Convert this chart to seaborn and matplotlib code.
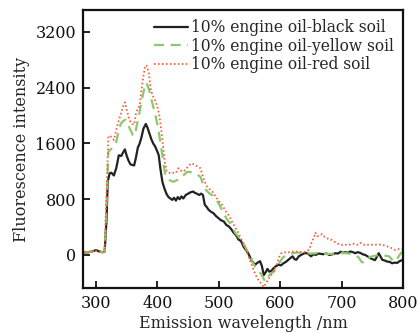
import matplotlib
matplotlib.use("Agg")
import matplotlib.pyplot as plt
import seaborn as sns
import pandas as pd

# Emission spectra of soils contaminated with 10% engine oil
black_wl = [280, 285, 290, 295, 300, 305, 310, 314, 317, 319, 322, 325, 329, 333, 337, 341, 344, 347, 350, 353,
            356, 359, 362, 365, 368, 371, 374, 377, 381, 384, 387, 390, 393, 396, 399, 402, 405, 408, 411, 415,
            418, 421, 424, 427, 430, 433, 436, 439, 442, 446, 450, 454, 458, 461, 464, 468, 471, 474, 477, 480,
            483, 487, 491, 495, 499, 503, 508, 512, 516, 520, 524, 528, 532, 536, 540, 544, 548, 551, 555, 559,
            563, 567, 570, 573, 576, 579, 582, 585, 589, 593, 597, 601, 605, 609, 613, 617, 620, 623, 626, 630,
            634, 638, 642, 646, 650, 654, 658, 662, 666, 670, 675, 680, 685, 690, 694, 698, 702, 706, 710, 714,
            718, 722, 726, 730, 734, 738, 742, 746, 750, 754, 757, 760, 763, 766, 770, 774, 778, 782, 786, 790,
            794, 798, 800]
black_soil = [40, 35, 45, 55, 70, 50, 40, 45, 500, 1050, 1170, 1180, 1140, 1250, 1430, 1420, 1470, 1515, 1420, 1350,
              1300, 1290, 1285, 1400, 1540, 1600, 1690, 1810, 1880, 1820, 1740, 1660, 1600, 1560, 1500, 1430, 1220, 1050, 960, 870,
              830, 810, 790, 820, 780, 830, 800, 840, 810, 860, 880, 900, 910, 890, 880, 860, 880, 860, 720, 690,
              650, 620, 600, 560, 530, 500, 480, 430, 410, 370, 320, 280, 220, 200, 120, 70, 20, -40, -100, -140,
              -110, -90, -160, -290, -250, -200, -240, -230, -190, -160, -140, -150, -120, -100, -70, -40, -20, -60, -70, -20,
              0, 20, 30, 10, -20, 10, 0, 20, 15, 10, 20, 0, 10, 25, 20, 45, 30, 40, 30, 50,
              40, 25, 40, 30, 10, 0, -20, -45, -60, -75, -30, 25, -20, -70, -80, -95, -100, -120, -110, -115,
              -90, -75, -70]

yellow_wl = [280, 285, 290, 295, 300, 305, 310, 314, 317, 320, 324, 328, 332, 336, 340, 344, 348, 352, 356, 360,
             363, 366, 370, 374, 378, 382, 386, 389, 393, 397, 401, 405, 409, 412, 415, 420, 426, 431, 437, 443,
             448, 454, 459, 465, 470, 475, 480, 485, 490, 494, 498, 502, 506, 510, 514, 518, 522, 527, 531, 535,
             540, 545, 551, 555, 559, 564, 570, 575, 578, 582, 586, 590, 594, 598, 603, 608, 614, 620, 627, 635,
             643, 650, 660, 670, 682, 690, 700, 708, 715, 722, 728, 732, 736, 740, 747, 755, 763, 770, 777, 782,
             786, 790, 794, 797, 800]
yellow_soil = [40, 35, 45, 55, 65, 50, 40, 45, 700, 1480, 1515, 1550, 1590, 1750, 1880, 1920, 1940, 1870, 1790, 1720,
               1710, 1850, 2010, 2200, 2370, 2470, 2380, 2270, 2130, 1990, 1820, 1600, 1360, 1180, 1100, 1070, 1050, 1070, 1090, 1150,
               1190, 1190, 1170, 1150, 1120, 990, 920, 880, 850, 810, 760, 700, 620, 560, 500, 460, 400, 310, 270, 220,
               160, 80, -20, -100, -170, -220, -290, -380, -330, -290, -260, -230, -190, -120, -50, -10, 15, 25, 35, 30,
               25, 20, 25, 15, 15, 20, 25, 25, 15, 0, -40, -100, -110, -60, -25, -10, 0, -10, -20, -70,
               -100, -60, 0, 30, 50]

red_wl = [280, 285, 290, 295, 300, 305, 310, 314, 317, 320, 323, 326, 329, 332, 335, 338, 341, 344, 347, 350,
          353, 356, 359, 362, 365, 368, 371, 374, 377, 380, 383, 386, 389, 392, 396, 400, 403, 406, 409, 412,
          415, 419, 423, 427, 430, 434, 438, 442, 446, 450, 453, 456, 459, 462, 466, 470, 473, 476, 480, 484,
          489, 493, 497, 501, 505, 509, 513, 517, 521, 525, 529, 533, 537, 541, 546, 550, 554, 558, 562, 566,
          570, 573, 577, 581, 585, 589, 592, 595, 598, 601, 605, 610, 615, 622, 630, 638, 643, 647, 651, 654,
          657, 660, 664, 668, 672, 676, 680, 684, 688, 692, 696, 700, 705, 710, 715, 720, 725, 730, 735, 739,
          745, 750, 758, 766, 772, 776, 782, 787, 791, 795, 800]
red_soil = [30, 40, 40, 55, 65, 45, 35, 50, 900, 1700, 1710, 1680, 1650, 1760, 1870, 1960, 2040, 2130, 2190, 2080,
            1980, 1910, 1880, 1870, 2030, 2100, 2140, 2380, 2560, 2720, 2710, 2600, 2380, 2290, 2220, 2120, 2000, 1800, 1560, 1330,
            1200, 1180, 1170, 1180, 1175, 1245, 1210, 1195, 1230, 1270, 1300, 1315, 1300, 1290, 1260, 1245, 1150, 1070, 990, 950,
            910, 860, 810, 760, 720, 660, 600, 560, 480, 420, 360, 290, 215, 140, 30, -60, -160, -250, -330, -380,
            -420, -460, -400, -340, -290, -240, -180, -120, -30, 20, 40, 35, 40, 50, 45, 40, 50, 80, 180, 240,
            320, 270, 280, 300, 260, 240, 220, 215, 190, 170, 150, 145, 150, 140, 155, 160, 145, 175, 150, 140,
            150, 145, 150, 145, 130, 115, 95, 70, 80, 90, 85]

labels = ["10% engine oil-black soil", "10% engine oil-yellow soil", "10% engine oil-red soil"]
x_ticks = [300, 400, 500, 600, 700, 800]
y_ticks = [0, 800, 1600, 2400, 3200]

sns.set_theme(style="ticks")
plt.rcParams["font.family"] = ["DejaVu Serif"]

fig = plt.figure(figsize=(4.2, 3.33), dpi=100)
ax = fig.add_axes([0.198, 0.135, 0.762, 0.835])

series = [
    (black_wl, black_soil, labels[0], "#222222", "-", 1.6),
    (yellow_wl, yellow_soil, labels[1], "#8CC96C", (0, (4.5, 3.0)), 1.6),
    (red_wl, red_soil, labels[2], "#F5603C", (0, (0.9, 1.3)), 1.3),
]
for wl, vals, lab, col, ls, lw in series:
    df = pd.DataFrame({"wl": wl, "val": vals})
    sns.lineplot(data=df, x="wl", y="val", ax=ax, color=col, linewidth=lw, label=lab)
    ax.lines[-1].set_linestyle(ls)

ax.set_xlim(279, 800)
ax.set_ylim(-475, 3515)
ax.set_xticks(x_ticks)
ax.set_yticks(y_ticks)
ax.tick_params(direction="in", length=5, width=1.3, labelsize=11.5, colors="#111111", pad=5,
               top=False, right=False)
for sp in ax.spines.values():
    sp.set_linewidth(1.6)
    sp.set_color("#111111")

ax.set_xlabel("Emission wavelength /nm", fontsize=11.5, labelpad=2)
ax.set_ylabel("Fluorescence intensity", fontsize=11.5, labelpad=4)

leg = ax.legend(loc="upper left", bbox_to_anchor=(0.367, 0.942), bbox_transform=fig.transFigure,
                frameon=False, fontsize=11.2, handlelength=2.2, handletextpad=0.2,
                labelspacing=0.1, borderpad=0, borderaxespad=0)

fig.savefig("out.png", dpi=100)
